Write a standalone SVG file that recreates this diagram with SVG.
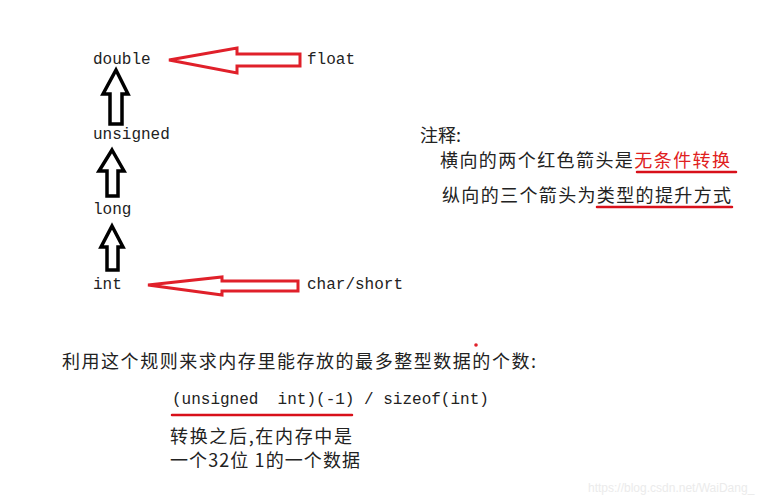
<svg xmlns="http://www.w3.org/2000/svg" width="774" height="500" viewBox="0 0 774 500">
<style>
.mono{font-family:"Liberation Mono","DejaVu Sans Mono",monospace;font-size:16px;fill:#222}
.cjk{font-family:"Noto Sans CJK SC","Noto Sans CJK JP",sans-serif;font-size:18px;fill:#222}
.red{fill:#e02020}
.up{fill:#fff;stroke:#000;stroke-width:3.5;stroke-linejoin:miter}
.left{fill:#fff;stroke:#e0202a;stroke-width:3;stroke-linejoin:miter}
.ul{stroke:#d8101a;stroke-width:2.5;stroke-linecap:round}
</style>
<rect width="774" height="500" fill="#fff"/>
<g id="double"><text class="mono" x="93" y="64">double</text></g>
<g id="unsigned"><text class="mono" x="93" y="139">unsigned</text></g>
<g id="long"><text class="mono" x="93" y="214">long</text></g>
<g id="int"><text class="mono" x="93" y="289">int</text></g>
<g id="float"><text class="mono" x="307" y="64">float</text></g>
<g id="charshort"><text class="mono" x="307" y="289">char/short</text></g>
<g id="connectors">
<polygon class="up" points="116,70 128,94 122,94 122,124 110,124 110,94 103,94"/>
<polygon class="up" points="112,150 124,171 118,171 118,196 107,196 107,171 99,171"/>
<polygon class="up" points="112,226 123,247 118,247 118,270 107,270 107,247 101,247"/>
<polygon class="left" points="169,60 237,48 237,54 300,54 300,66 237,66 237,73"/>
<polygon class="left" points="148,285 222,277 222,281 298,281 298,291 222,291 222,295"/>
</g>
<g id="note">
<text class="cjk" x="420" y="142">注释:</text>
<text class="cjk" x="440" y="167" textLength="290" lengthAdjust="spacing">横向的两个红色箭头是<tspan class="red">无条件转换</tspan></text>
<line class="ul" x1="637" y1="172" x2="736" y2="172"/>
<text class="cjk" x="442" y="202" textLength="289" lengthAdjust="spacing">纵向的三个箭头为类型的提升方式</text>
<line class="ul" x1="597" y1="207" x2="732" y2="207"/>
</g>
<g id="usage">
<circle cx="476" cy="345" r="1.8" fill="#e0202a"/>
<text class="cjk" x="62" y="368" textLength="474" lengthAdjust="spacing">利用这个规则来求内存里能存放的最多整型数据的个数:</text>
<text class="mono" x="172" y="404" xml:space="preserve">(unsigned  int)(-1) / sizeof(int)</text>
<line class="ul" x1="172" y1="415" x2="352" y2="415"/>
<text class="cjk" x="170" y="443" textLength="182" lengthAdjust="spacing">转换之后,在内存中是</text>
<text class="cjk" x="170" y="467" textLength="190" lengthAdjust="spacing">一个32位 1的一个数据</text>
</g>
<text x="588" y="492" font-family="Liberation Sans,Arial,sans-serif" font-size="12" fill="#ebebeb">https://blog.csdn.net/WaiDang_</text>
</svg>
